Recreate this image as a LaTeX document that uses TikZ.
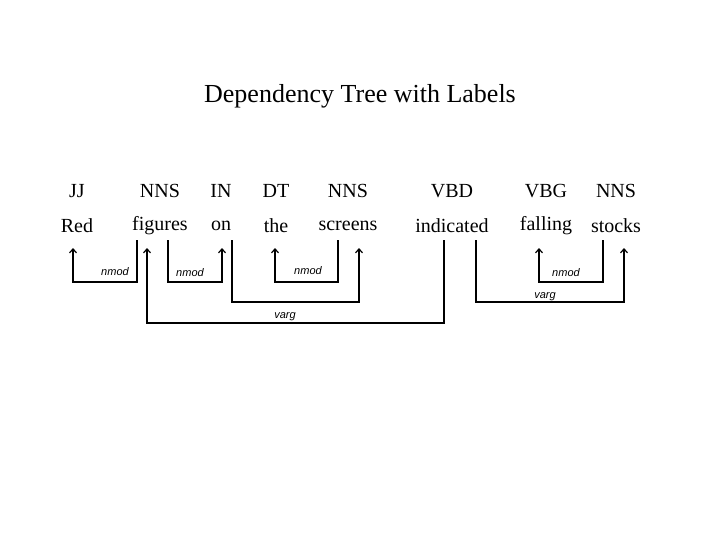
\documentclass[tikz,border=0pt]{standalone}
\usepackage{fontspec}
\setmainfont{Liberation Serif}
\newfontfamily\lab{Liberation Sans}
\usetikzlibrary{arrows.meta}
\begin{document}
\begin{tikzpicture}[x=1pt,y=-1pt,
  w/.style={inner sep=0,font=\fontsize{20}{22}\selectfont},
  l/.style={inner sep=0,font=\lab\itshape\fontsize{11}{12}\selectfont},
  dep/.style={line width=1.2pt},
  arr/.style={dep,-{Straight Barb[length=4pt,width=7pt]}}]
\useasboundingbox (0,0) rectangle (720,540);
\node[inner sep=0,font=\fontsize{26}{30}\selectfont] (title) at (360,96) {Dependency Tree with Labels};
\foreach \n/\x/\mytag/\myword in {1/77/JJ/Red,2/160/NNS/figures,3/221/IN/on,4/276/DT/the,5/348/NNS/screens,6/452/VBD/indicated,7/546/VBG/falling,8/616/NNS/stocks}{
  \node[w] (t\n) at (\x,191) {\mytag};
  \node[w] (w\n) at (\x,226) {\myword};
}
\coordinate (a1) at (73,248); \coordinate (b1) at (137,240);
\draw[arr] (b1) |- (73,282) -- (a1);
\node[l] (l1) at (115,272) {nmod};
\coordinate (a2) at (222,248); \coordinate (b2) at (168,240);
\draw[arr] (b2) |- (222,282) -- (a2);
\node[l] (l2) at (190,273) {nmod};
\coordinate (a3) at (275,248); \coordinate (b3) at (338,240);
\draw[arr] (b3) |- (275,282) -- (a3);
\node[l] (l3) at (308,271) {nmod};
\coordinate (a4) at (359,248); \coordinate (b4) at (232,240);
\draw[arr] (b4) |- (359,302) -- (a4);
\coordinate (a5) at (147,248); \coordinate (b5) at (444,240);
\draw[arr] (b5) |- (147,323) -- (a5);
\node[l] (l5) at (285,317) {varg};
\coordinate (a6) at (539,248); \coordinate (b6) at (603,240);
\draw[arr] (b6) |- (539,282) -- (a6);
\node[l] (l6) at (566,273) {nmod};
\coordinate (a7) at (624,248); \coordinate (b7) at (476,240);
\draw[arr] (b7) |- (624,302) -- (a7);
\node[l] (l7) at (545,297) {varg};
\end{tikzpicture}
\end{document}
